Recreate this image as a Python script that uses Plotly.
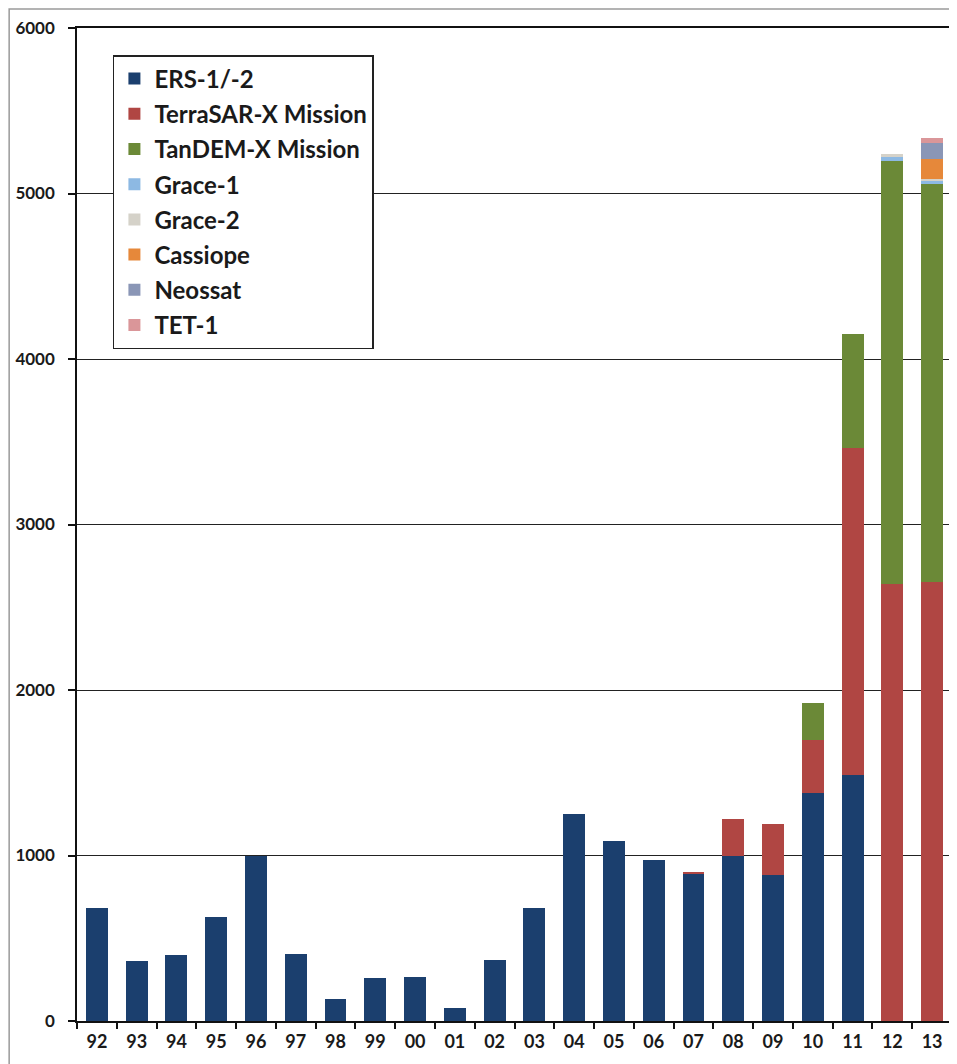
import plotly.graph_objects as go

years = ["92", "93", "94", "95", "96", "97", "98", "99", "00", "01", "02",
         "03", "04", "05", "06", "07", "08", "09", "10", "11", "12", "13"]

ers = [680, 360, 400, 630, 1000, 405, 135, 260, 265, 80, 370,
       680, 1250, 1090, 975, 890, 1000, 880, 1380, 1485, 0, 0]
terrasar = [0, 0, 0, 0, 0, 0, 0, 0, 0, 0, 0,
            0, 0, 0, 0, 10, 220, 310, 315, 1980, 2640, 2650]
tandem = [0, 0, 0, 0, 0, 0, 0, 0, 0, 0, 0,
          0, 0, 0, 0, 0, 0, 0, 225, 685, 2555, 2410]
grace1 = [0] * 20 + [28, 15]
grace2 = [0] * 20 + [17, 15]
cassiope = [0] * 21 + [120]
neossat = [0] * 21 + [97]
tet1 = [0] * 21 + [30]

series = [
    ("ERS-1/-2", ers, "#1B3F6E"),
    ("TerraSAR-X Mission", terrasar, "#B04643"),
    ("TanDEM-X Mission", tandem, "#6B8937"),
    ("Grace-1", grace1, "#8DB9E3"),
    ("Grace-2", grace2, "#D5D2C9"),
    ("Cassiope", cassiope, "#E6883A"),
    ("Neossat", neossat, "#8A96B6"),
    ("TET-1", tet1, "#DA9699"),
]

fig = go.Figure()
for i, (name, vals, col) in enumerate(series):
    fig.add_trace(go.Bar(x=years, y=vals, name=name, marker_color=col,
                         marker_line_width=0, legendgroup=f"g{i}"))

# page has an 8px body margin; figure coordinates = page - 8
OFF = 8
W, H = 957 - OFF, 1064 - OFF
L, R, T, B = 77 - OFF, 3, 28 - OFF, 43
pw = W - L - R
ph = H - T - B

font_family = "Lato"

fig.update_layout(
    width=W, height=H,
    margin=dict(l=L, r=R, t=T, b=B),
    barmode="stack",
    bargap=0.45,
    paper_bgcolor="white",
    plot_bgcolor="white",
    font=dict(family=font_family, color="#1a1a1a"),
    showlegend=True,
    legend=dict(
        x=(113 - 77) / pw, y=1 - (55 - 28) / ph,
        xanchor="left", yanchor="top",
        bgcolor="white", bordercolor="#222222", borderwidth=1.5,
        font=dict(family=font_family, size=24, color="#1a1a1a", weight="bold"),
        traceorder="grouped", tracegroupgap=1,
        itemwidth=30,
    ),
    xaxis=dict(
        type="category",
        range=[-0.5, 21.5],
        showline=True, linecolor="#111111", linewidth=1.5,
        mirror=True,
        ticks="outside", tickson="boundaries", ticklen=6, tickcolor="#111111",
        tickwidth=1.5,
        showgrid=False,
        ticklabelstandoff=4,
        tickfont=dict(family=font_family, size=18, color="#1a1a1a", weight="bold"),
    ),
    yaxis=dict(
        range=[0, 6000],
        dtick=1000,
        showline=True, linecolor="#111111", linewidth=1.5,
        mirror=True,
        ticks="outside", ticklen=7, tickcolor="#111111", tickwidth=1.5,
        showgrid=True, gridcolor="#222222", gridwidth=1.2,
        zeroline=False,
        ticklabelstandoff=10,
        tickfont=dict(family=font_family, size=17, color="#1a1a1a", weight="bold"),
    ),
    shapes=[
        dict(type="rect", xref="paper", yref="paper",
             x0=(9 - 77) / pw, x1=1 + 20 / pw,
             y0=-60 / ph, y1=1 + (28 - 9) / ph,
             line=dict(color="#9a9a9a", width=1.5), fillcolor="rgba(0,0,0,0)",
             layer="below"),
    ],
)

fig.write_html("out.html")
